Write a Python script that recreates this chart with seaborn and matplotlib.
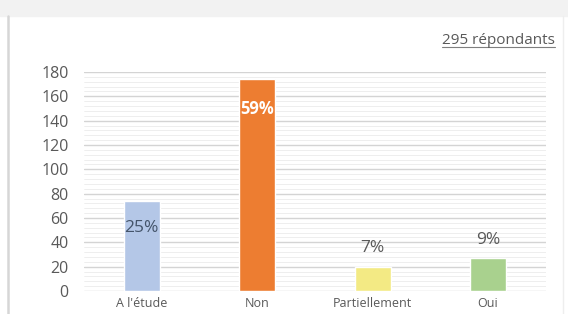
import matplotlib
matplotlib.use("Agg")
import matplotlib.pyplot as plt
import seaborn as sns
import pandas as pd
from matplotlib.patches import Rectangle
from matplotlib.lines import Line2D

# Données
categories = ["A l'étude", "Non", "Partiellement", "Oui"]
counts = [74, 174, 20, 27]
percents = ["25%", "59%", "7%", "9%"]
colors = ["#b4c7e7", "#ed7d31", "#f3ea84", "#a9d18e"]
total_label = "295 répondants"

sns.set_style("white")
plt.rcParams['font.family'] = ['Open Sans', 'DejaVu Sans']

df = pd.DataFrame({"cat": categories, "n": counts})

fig = plt.figure(figsize=(5.68, 3.14), dpi=100)
ax = fig.add_axes([0.148, 0.0732, 0.813, 0.6975])

# bandeau gris en haut + bordures
fig.patches.append(Rectangle((0, 1 - 16 / 314), 1, 16 / 314, transform=fig.transFigure,
                             color="#f2f2f2", zorder=0))
fig.lines.append(Line2D([8 / 568, 8 / 568], [0, 1 - 16 / 314], transform=fig.transFigure,
                        color="#d6d6d6", lw=1.8))
fig.lines.append(Line2D([563 / 568, 563 / 568], [0, 1 - 16 / 314], transform=fig.transFigure,
                        color="#eeeeee", lw=1))

# grille
for v in range(0, 181, 4):
    ax.axhline(v, color="#e8e8e8", lw=0.5, zorder=0)
for v in range(0, 181, 20):
    ax.axhline(v, color="#d4d4d4", lw=1.0, zorder=0.5)

sns.barplot(data=df, x="cat", y="n", hue="cat", palette=colors, legend=False,
            width=0.31, saturation=1, ax=ax, zorder=2)

ax.set_xlim(-0.5, 3.5)
ax.set_ylim(0, 180)
ax.set_yticks(range(0, 181, 20))
ax.set_xlabel("")
ax.set_ylabel("")
sns.despine(ax=ax, left=True, bottom=True)
ax.tick_params(axis="y", length=0, pad=11, labelsize=11.5, labelcolor="#595959")
ax.tick_params(axis="x", length=0, pad=4, labelsize=9, labelcolor="#595959")

# étiquettes de pourcentage
ax.text(0, 52, percents[0], ha="center", va="center", fontsize=12.5, color="#44546a", zorder=3)
ax.text(1, 150, percents[1], ha="center", va="center", fontsize=12, color="white",
        fontweight="bold", zorder=3)
ax.text(2, counts[2] + 15, percents[2], ha="center", va="center", fontsize=12.5, color="#595959", zorder=3)
ax.text(3, counts[3] + 15, percents[3], ha="center", va="center", fontsize=12.5, color="#595959", zorder=3)

t = fig.text(555 / 568, 1 - 41 / 314, total_label, ha="right", va="center",
             fontsize=11, color="#595959")
fig.canvas.draw()
bb = t.get_window_extent().transformed(fig.transFigure.inverted())
fig.lines.append(Line2D([bb.x0, bb.x1], [bb.y0 + 0.004, bb.y0 + 0.004], transform=fig.transFigure,
                        color="#7f7f7f", lw=0.8))

fig.savefig("out.png", dpi=100)
